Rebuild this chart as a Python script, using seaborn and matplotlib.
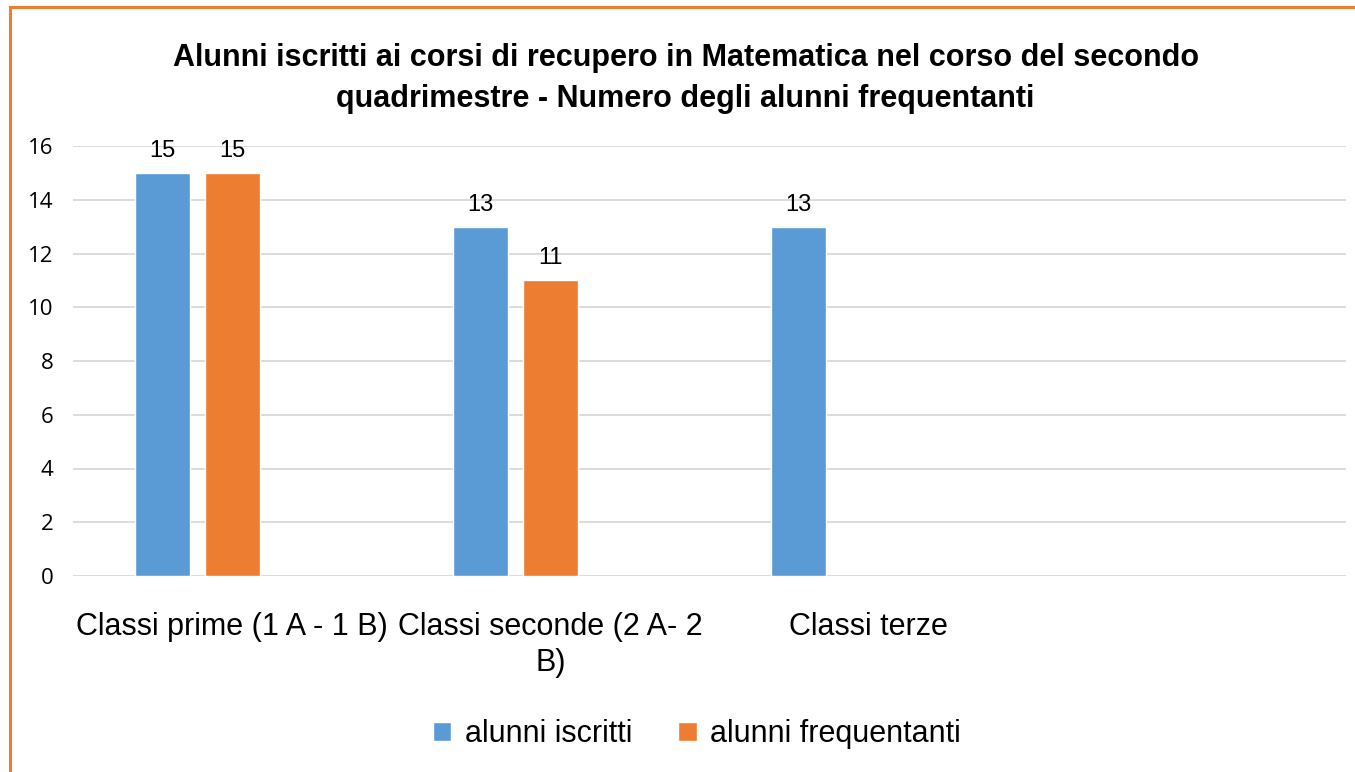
import numpy as np
import pandas as pd
import matplotlib
matplotlib.use("Agg")
import matplotlib.pyplot as plt
from matplotlib.patches import Patch, Rectangle
import seaborn as sns

# ---------------- dati ----------------
classi = ["Classi prime (1 A - 1 B)", "Classi seconde (2 A- 2\nB)", "Classi terze", ""]
serie = ["alunni iscritti", "alunni frequentanti", "Serie 3"]
iscritti = [15, 13, 13, np.nan]
frequentanti = [15, 11, np.nan, np.nan]
serie3 = [np.nan, np.nan, np.nan, np.nan]

colori = ["#5B9BD5", "#ED7D31", "#A5A5A5"]
titolo = ("Alunni iscritti ai corsi di recupero in Matematica nel corso del secondo\n"
          "quadrimestre - Numero degli alunni frequentanti")

df = pd.DataFrame({
    "classe": classi * 3,
    "serie": [serie[0]] * 4 + [serie[1]] * 4 + [serie[2]] * 4,
    "alunni": iscritti + frequentanti + serie3,
})

# ---------------- grafico ----------------
sns.set_style("white")
plt.rcParams["font.family"] = ["Liberation Sans", "DejaVu Sans"]
plt.rcParams["text.color"] = "black"

fig = plt.figure(figsize=(13.55, 7.72), dpi=100)
ax = fig.add_axes([73 / 1355, 1 - 576 / 772, (1346 - 73) / 1355, (576 - 146) / 772])

sns.barplot(data=df, x="classe", y="alunni", hue="serie", order=classi,
            hue_order=serie, palette=colori, width=0.66, gap=0.214,
            saturation=1, errorbar=None, legend=False, ax=ax)

for cont in ax.containers:
    etichette = ["" if np.isnan(b.get_height()) else "%d" % b.get_height() for b in cont]
    ax.bar_label(cont, labels=etichette, padding=8, fontsize=17, color="black")

ax.set_ylim(0, 16)
ax.set_xlim(-0.5, 3.5)
ax.set_yticks(range(0, 17, 2))
ax.yaxis.grid(True, color="#d9d9d9", linewidth=1.3)
ax.set_axisbelow(True)
for s in ax.spines.values():
    s.set_visible(False)
ax.set_xlabel("")
ax.set_ylabel("")
ax.tick_params(axis="both", length=0, labelcolor="black")
ax.tick_params(axis="y", pad=14)
ax.tick_params(axis="x", pad=26)
for t in ax.get_yticklabels():
    t.set_fontfamily("Open Sans")
    t.set_fontsize(16)
for t in ax.get_xticklabels():
    t.set_fontsize(22)
    t.set_linespacing(1.25)

fig.suptitle(titolo, x=0.506, y=1 - 43 / 772, va="top", fontsize=22,
             fontweight="bold", linespacing=1.5)

maniglie = [Patch(facecolor=colori[0]), Patch(facecolor=colori[1])]
fig.legend(maniglie, serie[:2], loc="center", bbox_to_anchor=(697 / 1355, 1 - 734 / 772),
           ncol=2, frameon=False, fontsize=22, handlelength=0.6, handleheight=0.6,
           handletextpad=0.45, columnspacing=1.5, labelcolor="black")

# cornice arancione
fig.patches.append(Rectangle((10 / 1355, -0.05), 1.1, 1 - 7 / 772 + 0.05,
                             transform=fig.transFigure, fill=False,
                             edgecolor="#ED7D31", linewidth=2.2))

fig.savefig("out.png", dpi=100)
